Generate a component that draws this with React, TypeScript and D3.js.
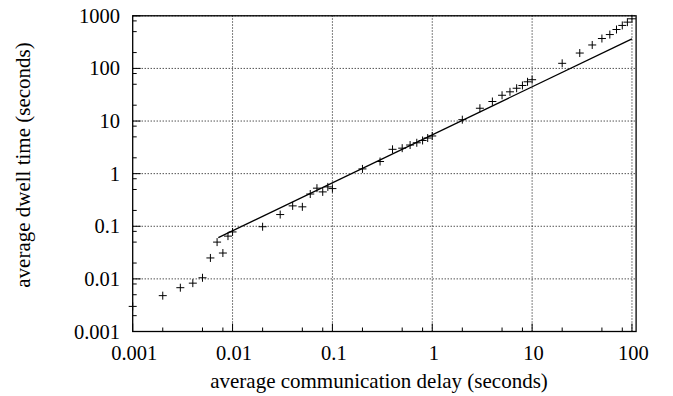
import React from "react";
import * as d3 from "d3";

const delays = [
  0.001, 0.002, 0.003, 0.004, 0.005, 0.006, 0.007, 0.008, 0.009, 0.01,
  0.02, 0.03, 0.04, 0.05, 0.06, 0.07, 0.08, 0.09, 0.1,
  0.2, 0.3, 0.4, 0.5, 0.6, 0.7, 0.8, 0.9, 1,
  2, 3, 4, 5, 6, 7, 8, 9, 10,
  20, 30, 40, 50, 60, 70, 80, 90, 100,
];
const dwell = [
  0.003, 0.0048, 0.0068, 0.0083, 0.0105, 0.025, 0.05, 0.031, 0.065, 0.078,
  0.098, 0.167, 0.244, 0.234, 0.41, 0.53, 0.45, 0.56, 0.52,
  1.23, 1.7, 2.9, 3.05, 3.5, 3.86, 4.27, 4.75, 5.2,
  10.6, 17.5, 23.5, 30.9, 35.9, 42, 47.4, 55.7, 61,
  125, 196, 279, 370, 440, 549, 656, 758, 877,
];
const fitX = [0.0072, 100];
const fitY = [0.061, 365];

const xTickValues = [0.001, 0.01, 0.1, 1, 10, 100];
const xTickLabels = ["0.001", "0.01", "0.1", "1", "10", "100"];
const yTickValues = [0.001, 0.01, 0.1, 1, 10, 100, 1000];
const yTickLabels = ["0.001", "0.01", "0.1", "1", "10", "100", "1000"];
const minorFactors = [2, 5, 8];

const xTitle = "average communication delay (seconds)";
const yTitle = "average dwell time (seconds)";

const W = 673;
const H = 396;
const left = 132.7;
const right = 636.1;
const top = 15.8;
const bottom = 331.5;

const font = "Liberation Serif, DejaVu Serif, serif";
const tickStyle: React.CSSProperties = { fontFamily: font, fontSize: "20.5px" };
const titleStyle: React.CSSProperties = { fontFamily: font, fontSize: "21px" };

export default function App() {
  const x = d3.scaleLog().domain([0.001, 110]).range([left, right]);
  const y = d3.scaleLog().domain([0.001, 1000]).range([bottom, top]);

  const xMinor: number[] = [];
  xTickValues.slice(0, -1).forEach((d) =>
    minorFactors.forEach((f) => xMinor.push(d * f))
  );
  const yMinor: number[] = [];
  yTickValues.slice(0, -1).forEach((d) =>
    minorFactors.forEach((f) => yMinor.push(d * f))
  );

  const line = d3
    .line<number>()
    .x((_, i) => x(fitX[i]))
    .y((_, i) => y(fitY[i]));

  return (
    <svg
      width={W}
      height={H}
      style={{ position: "fixed", left: 0, top: 0, background: "#fff" }}
    >
      <rect width={W} height={H} fill="#fff" />
      {xTickValues.slice(1).map((d) => (
        <line
          key={"gx" + d}
          x1={x(d)}
          x2={x(d)}
          y1={bottom}
          y2={top}
          stroke="#000"
          strokeWidth={1}
          strokeDasharray="1,2"
        />
      ))}
      {yTickValues.slice(1).map((d) => (
        <line
          key={"gy" + d}
          x1={left}
          x2={right}
          y1={y(d)}
          y2={y(d)}
          stroke="#000"
          strokeWidth={1}
          strokeDasharray="1,2"
        />
      ))}
      {xTickValues.map((d) => (
        <line key={"tx" + d} x1={x(d)} x2={x(d)} y1={bottom} y2={bottom - 8} stroke="#000" />
      ))}
      {xMinor.map((d) => (
        <line key={"mx" + d} x1={x(d)} x2={x(d)} y1={bottom} y2={bottom - 4} stroke="#000" />
      ))}
      {yTickValues.map((d) => (
        <line key={"ty" + d} x1={left} x2={left + 8} y1={y(d)} y2={y(d)} stroke="#000" />
      ))}
      {yMinor.map((d) => (
        <line key={"my" + d} x1={left} x2={left + 4} y1={y(d)} y2={y(d)} stroke="#000" />
      ))}
      <rect
        x={left}
        y={top}
        width={right - left}
        height={bottom - top}
        fill="none"
        stroke="#000"
        strokeWidth={1.3}
      />
      <path d={line(fitX) || ""} fill="none" stroke="#000" strokeWidth={1.3} />
      {delays.map((d, i) => {
        const cx = x(d);
        const cy = y(dwell[i]);
        return (
          <path
            key={"p" + i}
            d={`M${cx - 4},${cy}H${cx + 4}M${cx},${cy - 4}V${cy + 4}`}
            stroke="#000"
            strokeWidth={1}
            fill="none"
          />
        );
      })}
      {xTickValues.map((d, i) => (
        <text
          key={"lx" + d}
          x={x(d) + 1.5}
          y={360}
          style={tickStyle}
          textAnchor="middle"
          fill="#000"
        >
          {xTickLabels[i]}
        </text>
      ))}
      {yTickValues.map((d, i) => (
        <text
          key={"ly" + d}
          x={120}
          y={y(d) + 7}
          style={tickStyle}
          textAnchor="end"
          fill="#000"
        >
          {yTickLabels[i]}
        </text>
      ))}
      <text x={379} y={388} style={titleStyle} textAnchor="middle" fill="#000">
        {xTitle}
      </text>
      <text
        transform={`translate(30,165) rotate(-90)`}
        style={titleStyle}
        textAnchor="middle"
        fill="#000"
      >
        {yTitle}
      </text>
    </svg>
  );
}
